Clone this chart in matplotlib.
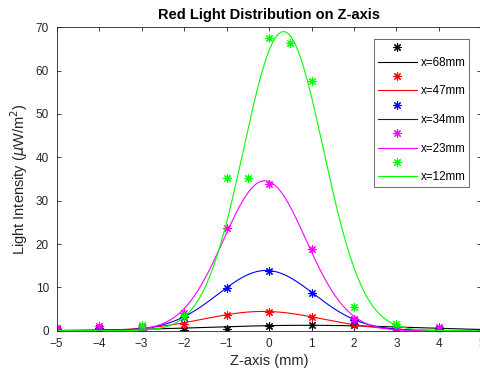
import numpy as np
import matplotlib
matplotlib.use('Agg')
import matplotlib.pyplot as plt

plt.rcParams['font.family'] = ['Liberation Sans', 'DejaVu Sans']

# measured points (z in mm, intensity in uW/m^2)
z_pts = [-5, -4, -3, -2, -1, 0, 1, 2, 3, 4]
i_68 = [0.1, 0.1, 0.2, 0.2, 0.5, 1.1, 1.25, 1.25, 0.4, 0.3]
i_47 = [0.5, 0.6, 0.4, 1.6, 3.6, 4.4, 3.1, 1.5, 0.3, 0.4]
i_34 = [0.7, 0.6, 0.8, 3.2, 9.8, 13.8, 8.7, 2.5, 0.4, 0.5]
i_23 = [0.7, 1.15, 0.9, 4.0, 23.8, 33.8, 18.8, 2.6, 0.9, 0.9]
z_12 = [-3, -2, -1, -0.5, 0, 0.5, 1, 2, 3]
i_12 = [1.4, 3.4, 35.3, 35.3, 67.5, 66.3, 57.7, 5.5, 1.55]

labels = ['x=68mm', 'x=47mm', 'x=34mm', 'x=23mm', 'x=12mm']
colors_ = ['#000000', '#ff0000', '#0000ff', '#ff00ff', '#00ff00']

# gaussian fit parameters
fit_amp = [1.25, 4.45, 13.9, 34.6, 69.0]
fit_mu = [0.9, -0.14, -0.07, -0.1, 0.34]
fit_sigma = [2.4, 1.4, 1.13, 0.97, 0.94]

xs = [z_pts, z_pts, z_pts, z_pts, z_12]
ys = [i_68, i_47, i_34, i_23, i_12]

fs_tick = 8.5
fs_label = 10.5
axcol = '#262626'

fig = plt.figure(figsize=(4.8, 3.73), dpi=100)
ax = fig.add_axes([0.118, 0.1134, 0.885, 0.8134])

zz = np.linspace(-5, 5, 400)
handles = []
leg_labels = []
for k in range(5):
    pts, = ax.plot(xs[k], ys[k], linestyle='none', marker=(8, 2, 0), markersize=6,
                   markeredgewidth=0.8, color=colors_[k])
    curve = fit_amp[k] * np.exp(-(zz - fit_mu[k]) ** 2 / (2 * fit_sigma[k] ** 2))
    ln, = ax.plot(zz, curve, color=colors_[k], linewidth=0.8)
    handles += [pts, ln]
    leg_labels += [' ', labels[k]]

ax.set_xlim(-5, 5)
ax.set_ylim(0, 70)
ax.set_xticks(range(-5, 6))
ax.set_yticks(range(0, 71, 10))
ax.tick_params(direction='in', top=True, right=True, length=3, width=0.6,
               labelsize=fs_tick, colors=axcol, pad=5.5)
for sp in ax.spines.values():
    sp.set_color(axcol)
    sp.set_linewidth(0.6)

ax.set_title('Red Light Distribution on Z-axis', fontsize=fs_label, fontweight='bold', pad=6)
ax.set_xlabel('Z-axis (mm)', fontsize=fs_label, color=axcol)
ax.set_ylabel(r'Light Intensity ($\mu$W/m$^2$)', fontsize=fs_label, color=axcol)
ax.xaxis.set_label_coords(0.5, -0.0775)
ax.yaxis.set_label_coords(-0.062, 0.5)

leg = ax.legend(handles, leg_labels, loc='upper left', bbox_to_anchor=(374 / 480, 1 - 39 / 373),
                bbox_transform=fig.transFigure, fontsize=8.4, frameon=True, fancybox=False,
                borderaxespad=0, borderpad=0.3, handlelength=3.4, handletextpad=0.3,
                labelspacing=0.2, numpoints=1)
leg.get_frame().set_edgecolor(axcol)
leg.get_frame().set_linewidth(0.6)

fig.savefig('out.png', dpi=100)
